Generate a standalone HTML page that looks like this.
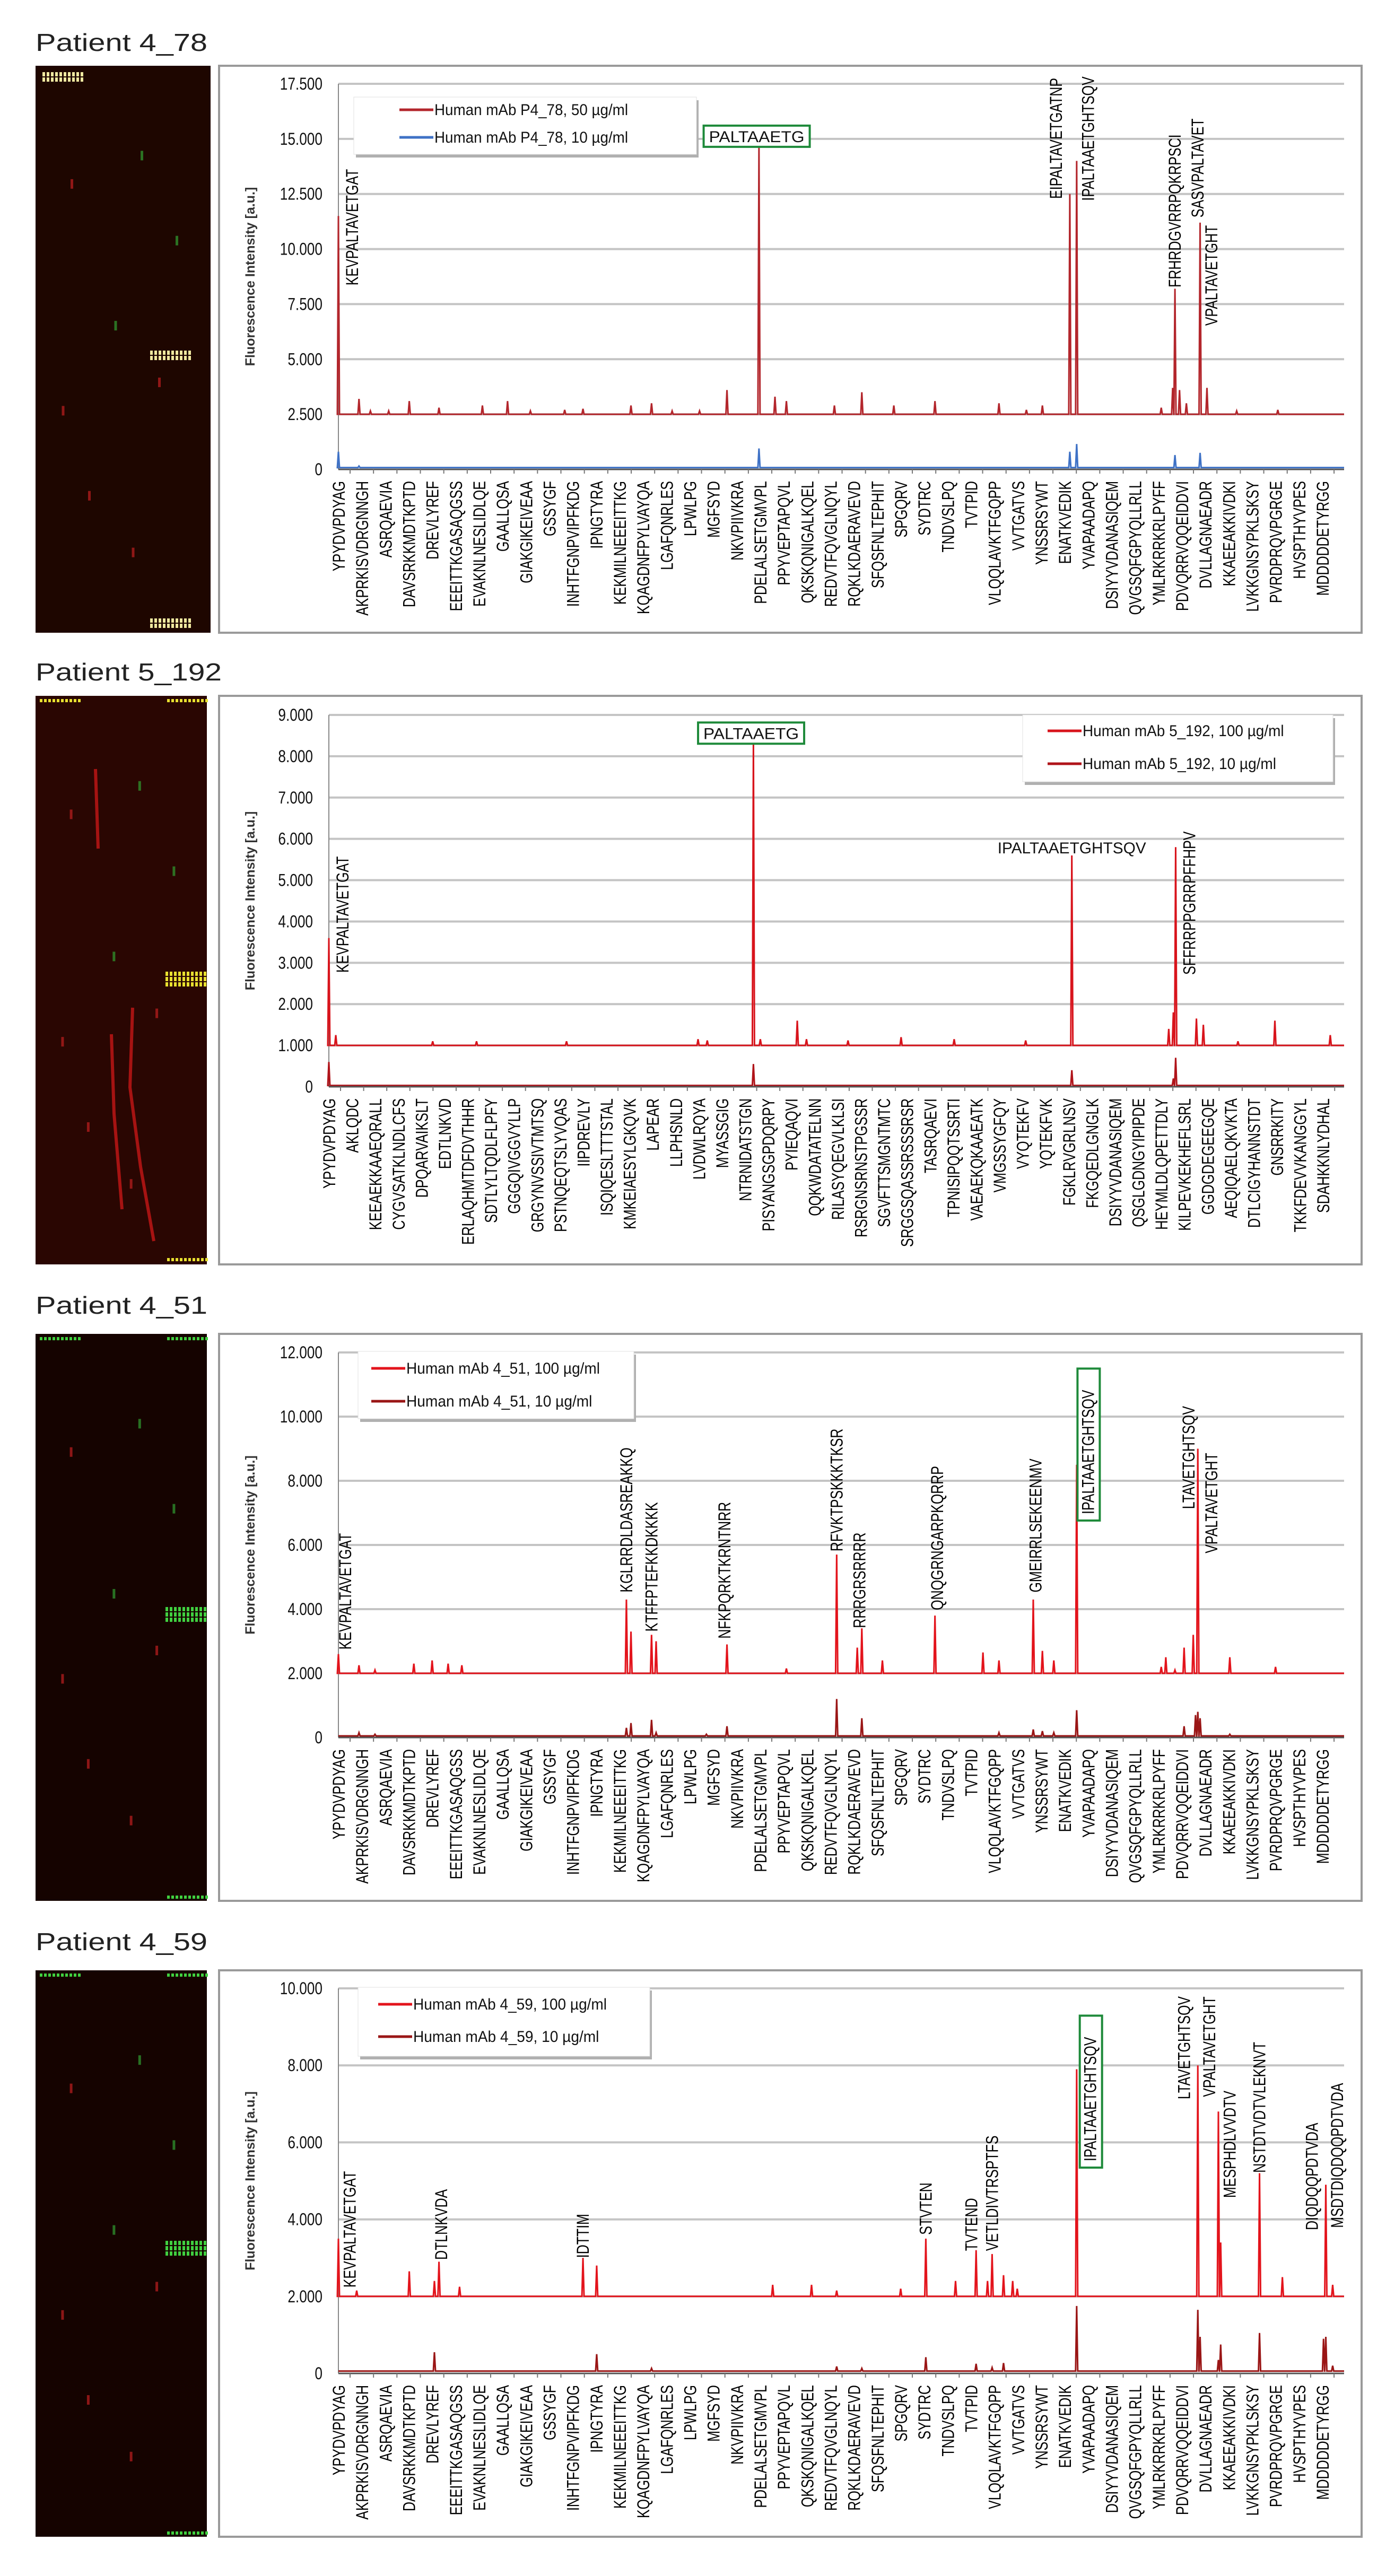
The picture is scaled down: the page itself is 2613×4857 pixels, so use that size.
<!DOCTYPE html>
<html><head><meta charset="utf-8">
<style>
html,body{margin:0;padding:0;background:#fff;}
body{width:2613px;height:4857px;position:relative;overflow:hidden;}
svg{position:absolute;left:0;top:0;}
text{font-family:"Liberation Sans",sans-serif;}
</style></head>
<body>
<svg id="chart" width="2613" height="4857" viewBox="0 0 2613 4857"></svg>
<script>
// ---------- DATA ----------
const labelsA = ["YPYDVPDYAG","AKPRKISVDRGNNGH","ASRQAEVIA","DAVSRKKMDTKPTD","DREVLYREF","EEEITTKGASAQGSS","EVAKNLNESLIDLQE","GAALLQSA","GIAKGIKEIVEAA","GSSYGF","INHTFGNPVIPFKDG","IPNGTYRA","KEKMILNEEEITTKG","KQAGDNFPYLVAYQA","LGAFQNRLES","LPWLPG","MGFSYD","NKVPIIVKRA","PDELALSETGMVPL","PPYVEPTAPQVL","QKSKQNIGALKQEL","REDVTFQVGLNQYL","RQKLKDAERAVEVD","SFQSFNLTEPHIT","SPGQRV","SYDTRC","TNDVSLPQ","TVTPID","VLQQLAVKTFGQPP","VVTGATVS","YNSSRSYWT","ENATKVEDIK","YVAPAADAPQ","DSIYYVDANASIQEM","QVGSQFGPYQLLRLL","YMLRKRRKRLPYFF","PDVQRRVQQEIDDVI","DVLLAGNAEADR","KKAEEAKKIVDKI","LVKKGNSYPKLSKSY","PVRDPRQVPGRGE","HVSPTHYVPES","MDDDDDETYRGG"];
const labelsB = ["YPYDVPDYAG","AKLQDC","KEEAEKKAAEQRALL","CYGVSATKLNDLCFS","DPQARVAIKSLT","EDTLNKVD","ERLAQHMTDFDVTHHR","SDTLYLTQDLFLPFY","GGGQIVGGVYLLP","GRGYNVSSIVTMTSQ","PSTNQEQTSLYVQAS","IIPDREVLY","ISQIQESLTTTSTAL","KMKEIAESYLGKQVK","LAPEAR","LLPHSNLD","LVDWLRQYA","MYASSGIG","NTRNIDATSTGN","PISYANGSGPDQRPY","PYIEQAQVI","QQKWDATATELNN","RILASYQEGVLKLSI","RSRGNSRNSTPGSSR","SGVFTTSMGNTMTC","SRGGSQASSRSSSRSR","TASRQAEVI","TPNISIPQQTSSRTI","VAEAEKQKAAEATK","VMGSSYGFQY","VYQTEKFV","YQTEKFVK","FGKLRVGRLNSV","FKGQEDLGNGLK","DSIYYVDANASIQEM","QSGLGDNGYIPIPDE","HEYMLDLQPETTDLY","KILPEVKEKHEFLSRL","GGDGDEGEEGQE","AEQIQAELQKVKTA","DTLCIGYHANNSTDT","GNSRRKITY","TKKFDEVVKANGGYL","SDAHKKNLYDHAL"];

const p1High = [[0,11500],[9,3200],[14,2650],[22,2650],[31,3100],[44,2800],[63,2900],[74,3100],[84,2650],[99,2700],[107,2750],[128,2900],[137,3000],[146,2650],[158,2650],[170,3600],[184,14800],[191,3300],[196,3100],[217,2900],[229,3500],[243,2900],[261,3100],[289,3000],[301,2700],[308,2900],[320,12500],[323,14000],[360,2800],[365,3700],[366,8200],[368,3600],[371,3000],[377,11200],[380,3700],[393,2650],[411,2700]];
const p1Low = [[0,800],[9,150],[184,950],[320,800],[323,1150],[366,650],[377,750]];
const p2High = [[0,3600],[3,1250],[45,1100],[64,1100],[103,1100],[160,1150],[164,1120],[184,8300],[187,1150],[203,1600],[207,1150],[225,1120],[248,1200],[271,1150],[302,1120],[322,5600],[364,1400],[366,1800],[367,5800],[376,1650],[379,1500],[394,1100],[410,1600],[434,1250]];
const p2Low = [[0,600],[184,550],[322,400],[366,200],[367,700]];
const p3High = [[0,2600],[9,2250],[16,2100],[33,2300],[41,2400],[48,2300],[54,2250],[126,4300],[128,3300],[137,3200],[139,3000],[170,2900],[196,2150],[218,5700],[227,2800],[229,3400],[238,2400],[261,3800],[282,2650],[289,2400],[304,4300],[308,2700],[313,2400],[323,8500],[360,2200],[362,2500],[366,2100],[370,2800],[374,3200],[376,9000],[390,2500],[410,2200]];
const p3Low = [[9,150],[16,100],[126,300],[128,450],[137,550],[139,150],[161,100],[170,350],[218,1200],[229,600],[289,150],[304,250],[308,200],[313,150],[323,850],[370,350],[375,700],[376,800],[377,600],[390,100]];
const p4High = [[0,3500],[8,2150],[31,2650],[42,2400],[44,2900],[53,2250],[107,3000],[113,2800],[190,2300],[207,2300],[218,2150],[246,2200],[257,3500],[270,2400],[279,3200],[284,2400],[286,3100],[291,2550],[295,2400],[297,2200],[323,7900],[376,8000],[385,6800],[386,3400],[403,5200],[413,2500],[432,4900],[435,2300]];
const p4Low = [[42,550],[113,500],[137,130],[218,180],[229,130],[257,420],[279,250],[286,150],[291,270],[323,1750],[376,1650],[377,950],[385,350],[386,750],[403,1050],[431,900],[432,950],[435,200]];

const p1Notes = [[6,8350,"KEVPALTAVETGAT"],[314,12280,"EIPALTAVETGATNP"],[328,12190,"IPALTAAETGHTSQV"],[366,8260,"FRHRDGVRRPQKRPSCI"],[376,11430,"SASVPALTAVET"],[382,6520,"VPALTAVETGHT"]];
const p2Notes = [[6,2760,"KEVPALTAVETGAT"],[373,2710,"SFFRRPPGRRPFFHPV"]];
const p3Notes = [[3,2740,"KEVPALTAVETGAT"],[126,4520,"KGLRRDLDASREAKKQ"],[137,3300,"KTFFPTEFKKDKKKK"],[169,3080,"NFKPQRKTKRNTNRR"],[218,5800,"RFVKTPSKKKTKSR"],[228,3410,"RRRGRSRRRR"],[262,3970,"QNQGRNGARPKQRRP"],[305,4520,"GMEIRRLSEKEENMV"],[372,7120,"LTAVETGHTSQV"],[382,5740,"VPALTAVETGHT"]];
const p4Notes = [[5,2230,"KEVPALTAVETGAT"],[45,2950,"DTLNKVDA"],[107,3000,"IDTTIM"],[257,3600,"STVTEN"],[277,3180,"TVTEND"],[286,3180,"VETLDIVTRSPTFS"],[370,7120,"LTAVETGHTSQV"],[381,7180,"VPALTAVETGHT"],[390,4560,"MESPHDLVVDTV"],[403,5210,"NSTDTVDTVLEKNVT"],[426,3720,"DIQDQQPDTVDA"],[437,3780,"MSDTDIQDQQPDTVDA"]];

// ---------- RENDER ----------
const NS = "http://www.w3.org/2000/svg";
const svg = document.getElementById("chart");
function mk(tag, parent){ const e=document.createElementNS(NS,tag); (parent||svg).appendChild(e); return e; }
function fmt(v){ if(v===0) return "0"; const t=Math.floor(v/1000), r=v%1000; return t+"."+String(r).padStart(3,"0"); }

function vtext(g, cx, yb, str, size){
  const t = mk("text", g);
  
  
  t.setAttribute("transform", "translate("+(cx+11)+","+yb+") rotate(-90) scale(0.78,1)");
  t.setAttribute("font-size", size||32);
  t.setAttribute("fill", "#000");
  t.textContent = str;
  return t;
}

const panels = [
 {title:"Patient 4_78", tb:96, top:124, bot:1193, sl:67, sr:397, pl:638, pr:2534, yTop:158, y0:885, max:17500, step:2500,
  labels:labelsA, lspan:10.25, high:p1High, low:p1Low, hb:2500, lb:80, hc:"#b3262c", lc:"#3f72c6", notes:p1Notes,
  leg:{x:667,y:183,w:646,h:108,e1:207,e2:259,lx:753}, legText:["Human mAb P4_78, 50 µg/ml","Human mAb P4_78, 10 µg/ml"],
  box:{kind:"h", idx:183, val:15120, text:"PALTAAETG", w:200, h:40}, stripBg:"#1e0600", axisX:480,
  spots:[[80,136,"#f0e8a0",2],[283,661,"#f0e8a0",2],[283,1166,"#f0e8a0",2]]},
 {title:"Patient 5_192", tb:1283, top:1312, bot:2384, sl:67, sr:390, pl:620, pr:2534, yTop:1348, y0:2049, max:9000, step:1000,
  labels:labelsB, lspan:10.02, high:p2High, low:p2Low, hb:1000, lb:30, hc:"#d8141c", lc:"#b0141a", notes:p2Notes,
  leg:{x:1928,y:1348,w:585,h:126,e1:1378,e2:1440,lx:1975}, legText:["Human mAb 5_192, 100 µg/ml","Human mAb 5_192, 10 µg/ml"],
  box:{kind:"h", idx:183, val:8560, text:"PALTAAETG", w:200, h:40},
  htext:{idx:322, val:5790, text:"IPALTAAETGHTSQV"}, stripBg:"#2a0602", axisX:480,
  spots:[[75,1318,"#e8e030",1],[315,1318,"#e8e030",1],[312,1832,"#e8e030",3],[315,2372,"#e8e030",1]]},
 {title:"Patient 4_51", tb:2477, top:2515, bot:3584, sl:67, sr:390, pl:638, pr:2534, yTop:2550, y0:3276, max:12000, step:2000,
  labels:labelsA, lspan:10.25, high:p3High, low:p3Low, hb:2000, lb:50, hc:"#e3141c", lc:"#9a1616", notes:p3Notes,
  leg:{x:675,y:2548,w:520,h:127,e1:2580,e2:2642,lx:700}, legText:["Human mAb 4_51, 100 µg/ml","Human mAb 4_51, 10 µg/ml"],
  box:{kind:"v", idx:328, val:6960, text:"IPALTAAETGHTSQV"}, stripBg:"#150300", axisX:480,
  spots:[[75,2521,"#40d040",1],[315,2521,"#40d040",1],[312,3030,"#40d040",3],[315,3574,"#40d040",1]]},
 {title:"Patient 4_59", tb:3677, top:3715, bot:4783, sl:67, sr:390, pl:638, pr:2534, yTop:3749, y0:4475, max:10000, step:2000,
  labels:labelsA, lspan:10.25, high:p4High, low:p4Low, hb:2000, lb:60, hc:"#e3141c", lc:"#9a1616", notes:p4Notes,
  leg:{x:675,y:3747,w:550,h:130,e1:3779,e2:3840,lx:713}, legText:["Human mAb 4_59, 100 µg/ml","Human mAb 4_59, 10 µg/ml"],
  box:{kind:"v", idx:329, val:5510, text:"IPALTAAETGHTSQV"}, stripBg:"#150300", axisX:480,
  spots:[[75,3721,"#40d040",1],[315,3721,"#40d040",1],[312,4225,"#40d040",3],[315,4773,"#40d040",1]]}
];

const N = 440;
panels.forEach((p, pi) => {
  const g = mk("g");
  
  
  const x = i => p.pl + i / N * (p.pr - p.pl);
  const y = v => p.y0 - v / p.max * (p.y0 - p.yTop);

  const tt = mk("text", g);
  
  
  tt.setAttribute("x", 67); tt.setAttribute("y", p.tb);
  tt.setAttribute("font-size", 46); tt.setAttribute("fill", "#222");
  tt.setAttribute("textLength", p.title.length*27); tt.setAttribute("lengthAdjust", "spacingAndGlyphs");
  tt.textContent = p.title;

  // microarray strip
  const st = mk("rect", g);
  
  
  st.setAttribute("x", p.sl); st.setAttribute("y", p.top); st.setAttribute("width", p.sr-p.sl); st.setAttribute("height", p.bot-p.top);
  st.setAttribute("fill", p.stripBg);
  p.spots.forEach(s => {
    for (let rr = 0; rr < s[3]; rr++) {
      for (let k = 0; k < 10; k++) {
        const r = mk("rect", g);
        
        
        r.setAttribute("x", s[0] + k*8); r.setAttribute("y", s[1] + rr*10);
        r.setAttribute("width", 5); r.setAttribute("height", s[3] > 1 ? 8 : 6);
        r.setAttribute("fill", s[2]);
      }
    }
  });
  // faint scattered spots
  [[0.2,0.2,"#c02020"],[0.45,0.45,"#30a030"],[0.7,0.55,"#c02020"],[0.3,0.75,"#c02020"],[0.55,0.85,"#c02020"],[0.8,0.3,"#30a030"],[0.15,0.6,"#c02020"],[0.6,0.15,"#30a030"]].forEach(s => {
    const r = mk("rect", g);
    
    
    r.setAttribute("x", p.sl + s[0]*(p.sr-p.sl)); r.setAttribute("y", p.top + s[1]*(p.bot-p.top));
    r.setAttribute("width", 5); r.setAttribute("height", 18); r.setAttribute("fill", s[2]); r.setAttribute("opacity", 0.7);
  });
  if (pi===1) {
    const s = mk("path", g);
    
    
    s.setAttribute("d", "M250 1900 L245 2050 L265 2200 L290 2340 M210 1950 L215 2100 L230 2280 M180 1450 L185 1600");
    s.setAttribute("stroke", "#d01818"); s.setAttribute("stroke-width", 6); s.setAttribute("fill","none"); s.setAttribute("opacity", 0.75);
  }

  // chart frame
  const fr = mk("rect", g);
  
  
  fr.setAttribute("x", 413); fr.setAttribute("y", p.top); fr.setAttribute("width", 2154); fr.setAttribute("height", p.bot-p.top);
  fr.setAttribute("fill", "#fff"); fr.setAttribute("stroke", "#9a9a9a"); fr.setAttribute("stroke-width", 4);

  for (let v = 0; v <= p.max; v += p.step) {
    if (v > 0) {
      const gl = mk("line", g);
      
      
      gl.setAttribute("x1", p.pl); gl.setAttribute("x2", p.pr); gl.setAttribute("y1", y(v)); gl.setAttribute("y2", y(v));
      gl.setAttribute("stroke", "#c4c4c4"); gl.setAttribute("stroke-width", 4);
    }
    const tl = mk("text", g);
    
    
    tl.setAttribute("x", p.pl - 30); tl.setAttribute("y", y(v) + 11);
    tl.setAttribute("text-anchor", "end"); tl.setAttribute("font-size", 32); tl.setAttribute("fill", "#111");
    tl.setAttribute("transform", "translate(" + (p.pl-30) + ",0) scale(0.82,1) translate(" + (-(p.pl-30)) + ",0)");
    tl.textContent = fmt(v);
  }
  const ya = mk("line", g);
  
  
  ya.setAttribute("x1", p.pl); ya.setAttribute("x2", p.pl); ya.setAttribute("y1", p.yTop); ya.setAttribute("y2", p.y0);
  ya.setAttribute("stroke", "#888"); ya.setAttribute("stroke-width", 2);

  const yt = mk("text", g);
  
  
  yt.setAttribute("transform", "translate(" + p.axisX + "," + ((p.yTop + p.y0)/2) + ") rotate(-90)");
  yt.setAttribute("text-anchor", "middle"); yt.setAttribute("font-size", 25); yt.setAttribute("font-weight", "bold"); yt.setAttribute("fill", "#333");
  yt.textContent = "Fluorescence Intensity [a.u.]";

  function series(data, base, color, name) {
    let d = "M" + x(0) + " " + y(base);
    data.slice().sort((a,b)=>a[0]-b[0]).forEach(pt => {
      const xx = x(pt[0]);
      d += " L" + (xx-2) + " " + y(base) + " L" + xx + " " + y(pt[1]) + " L" + (xx+2) + " " + y(base);
    });
    d += " L" + x(N) + " " + y(base);
    const pa = mk("path", g);
    
    
    pa.setAttribute("d", d); pa.setAttribute("fill", "none"); pa.setAttribute("stroke", color);
    pa.setAttribute("stroke-width", 3); pa.setAttribute("stroke-linejoin", "miter");
  }
  series(p.low, p.lb, p.lc, "series-10ug");
  series(p.high, p.hb, p.hc, "series-high-conc");

  const xa = mk("line", g);
  
  
  xa.setAttribute("x1", p.pl); xa.setAttribute("x2", p.pr); xa.setAttribute("y1", p.y0); xa.setAttribute("y2", p.y0);
  xa.setAttribute("stroke", "#555"); xa.setAttribute("stroke-width", 3);
  p.labels.forEach((lab, k) => {
    const xi = x(k * p.lspan);
    const tk = mk("line", g);
    
    
    tk.setAttribute("x1", xi + 22); tk.setAttribute("x2", xi + 22); tk.setAttribute("y1", p.y0); tk.setAttribute("y2", p.y0 + 8);
    tk.setAttribute("stroke", "#777"); tk.setAttribute("stroke-width", 2);
    const t = mk("text", g);
    
    
    t.setAttribute("transform", "translate(" + (xi + 12) + "," + (p.y0 + 22) + ") rotate(-90) scale(0.78,1)");
    t.setAttribute("text-anchor", "end"); t.setAttribute("font-size", 32); t.setAttribute("fill", "#000");
    t.textContent = lab;
  });

  p.notes.forEach(n => { vtext(g, x(n[0]), y(n[1]), n[2]); });

  if (p.box.kind === "h") {
    const bx = x(p.box.idx), by = y(p.box.val);
    const r = mk("rect", g);
    
    
    r.setAttribute("x", bx - p.box.w/2); r.setAttribute("y", by - p.box.h/2); r.setAttribute("width", p.box.w); r.setAttribute("height", p.box.h);
    r.setAttribute("fill", "#fff"); r.setAttribute("stroke", "#1e8a3a"); r.setAttribute("stroke-width", 4);
    const t = mk("text", g);
    
    
    t.setAttribute("x", bx); t.setAttribute("y", by + 11); t.setAttribute("text-anchor", "middle");
    t.setAttribute("font-size", 30); t.setAttribute("fill", "#111");
    t.setAttribute("textLength", p.box.w - 20); t.setAttribute("lengthAdjust", "spacingAndGlyphs");
    t.textContent = p.box.text;
  } else {
    const bx = x(p.box.idx), by = y(p.box.val);
    const len = p.box.text.length * 17.5;
    const r = mk("rect", g);
    
    
    r.setAttribute("x", bx - 20); r.setAttribute("y", by - len - 12); r.setAttribute("width", 42); r.setAttribute("height", len + 24);
    r.setAttribute("fill", "#fff"); r.setAttribute("stroke", "#1e8a3a"); r.setAttribute("stroke-width", 4);
    vtext(g, bx, by, p.box.text);
  }
  if (p.htext) {
    const t = mk("text", g);
    
    
    t.setAttribute("x", x(p.htext.idx)); t.setAttribute("y", y(p.htext.val) + 11); t.setAttribute("text-anchor", "middle");
    t.setAttribute("font-size", 30); t.setAttribute("fill", "#111");
    t.setAttribute("textLength", 280); t.setAttribute("lengthAdjust", "spacingAndGlyphs");
    t.textContent = p.htext.text;
  }

  const L = p.leg;
  const sh = mk("rect", g);
  
  
  sh.setAttribute("x", L.x + 4); sh.setAttribute("y", L.y + 6); sh.setAttribute("width", L.w); sh.setAttribute("height", L.h);
  sh.setAttribute("fill", "#b0b0b0");
  const lb = mk("rect", g);
  
  
  lb.setAttribute("x", L.x); lb.setAttribute("y", L.y); lb.setAttribute("width", L.w); lb.setAttribute("height", L.h);
  lb.setAttribute("fill", "#fff"); lb.setAttribute("stroke", "#e0e0e0"); lb.setAttribute("stroke-width", 1);
  [[L.e1, p.hc, p.legText[0]], [L.e2, p.lc, p.legText[1]]].forEach(e => {
    const ln = mk("line", g);
    
    
    ln.setAttribute("x1", L.lx); ln.setAttribute("x2", L.lx + 64); ln.setAttribute("y1", e[0]); ln.setAttribute("y2", e[0]);
    ln.setAttribute("stroke", e[1]); ln.setAttribute("stroke-width", 5);
    const t = mk("text", g);
    
    
    t.setAttribute("x", L.lx + 66); t.setAttribute("y", e[0] + 10);
    t.setAttribute("font-size", 30); t.setAttribute("fill", "#111");
    t.setAttribute("textLength", e[2].length * 14.6); t.setAttribute("lengthAdjust", "spacingAndGlyphs");
    t.textContent = e[2];
  });
});
</script>
</body></html>
